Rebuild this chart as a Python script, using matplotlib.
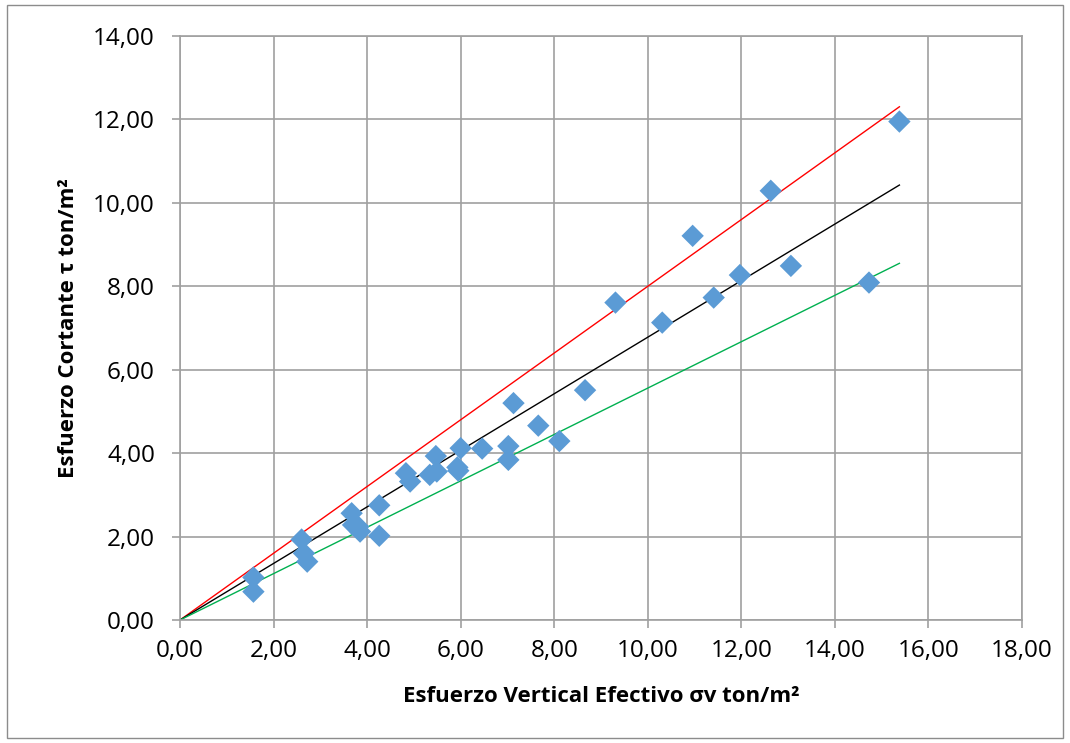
import numpy as np
import matplotlib
matplotlib.use("Agg")
import matplotlib.pyplot as plt
from matplotlib.ticker import FuncFormatter, MultipleLocator
from matplotlib.patches import Rectangle

# datos (sigma v, tau) en ton/m2
sigma_v = [1.57, 1.57, 2.60, 2.65, 2.72, 3.67, 3.70, 3.81, 3.85, 4.26, 4.26,
           4.83, 4.92, 5.34, 5.47, 5.49, 5.93, 5.95, 6.00, 6.46, 7.02, 7.02,
           7.13, 7.66, 8.11, 8.66, 9.31, 10.31, 10.96, 11.41, 11.97, 12.63,
           13.06, 14.73, 15.38]
tau = [1.02, 0.68, 1.93, 1.60, 1.40, 2.56, 2.28, 2.24, 2.12, 2.75, 2.02,
       3.52, 3.32, 3.48, 3.93, 3.56, 3.66, 3.58, 4.12, 4.11, 4.17, 3.84,
       5.20, 4.66, 4.29, 5.51, 7.61, 7.13, 9.21, 7.73, 8.27, 10.29,
       8.49, 8.09, 11.95]

# pendientes de las rectas (max, promedio, min)
slopes = [0.800, 0.678, 0.556]
line_colors = ['#ff0000', '#000000', '#00b050']

fig = plt.figure(figsize=(10.7, 7.43), dpi=100)
fig.patches.append(Rectangle((0.007, 0.007), 0.986, 0.986, transform=fig.transFigure,
                             fill=False, edgecolor='#8c8c8c', linewidth=1.0))
ax = fig.add_axes([0.1682, 0.1655, 0.7869, 0.786])

x_line = np.array([0, max(sigma_v)])
for s, c in zip(slopes, line_colors):
    ax.plot(x_line, s * x_line, color=c, linewidth=1.0, zorder=2)

ax.scatter(sigma_v, tau, marker='D', s=130, color='#5b9bd5', edgecolors='none', zorder=3)

ax.set_xlim(0, 18)
ax.set_ylim(0, 14)
ax.xaxis.set_major_locator(MultipleLocator(2))
ax.yaxis.set_major_locator(MultipleLocator(2))
fmt = FuncFormatter(lambda v, p: ('%.2f' % v).replace('.', ','))
ax.xaxis.set_major_formatter(fmt)
ax.yaxis.set_major_formatter(fmt)
ax.grid(True, color='#a0a0a0', linewidth=1.2, zorder=0)
ax.set_axisbelow(True)
for sp in ax.spines.values():
    sp.set_color('#a0a0a0')
    sp.set_linewidth(1.2)
ax.tick_params(axis='both', colors='#a0a0a0', labelcolor='black', labelsize=17.5,
               length=6, width=1.2)
ax.tick_params(axis='x', pad=8)
ax.tick_params(axis='y', pad=12)
for lab in ax.get_xticklabels() + ax.get_yticklabels():
    lab.set_family('Open Sans')

ax.set_xlabel('Esfuerzo Vertical Efectivo σv ton/m²', fontsize=16,
              fontweight='bold', family='Open Sans', labelpad=16)
ax.set_ylabel('Esfuerzo Cortante τ ton/m²', fontsize=16,
              fontweight='bold', family='Open Sans', labelpad=10)

fig.savefig('out.png', dpi=100)
